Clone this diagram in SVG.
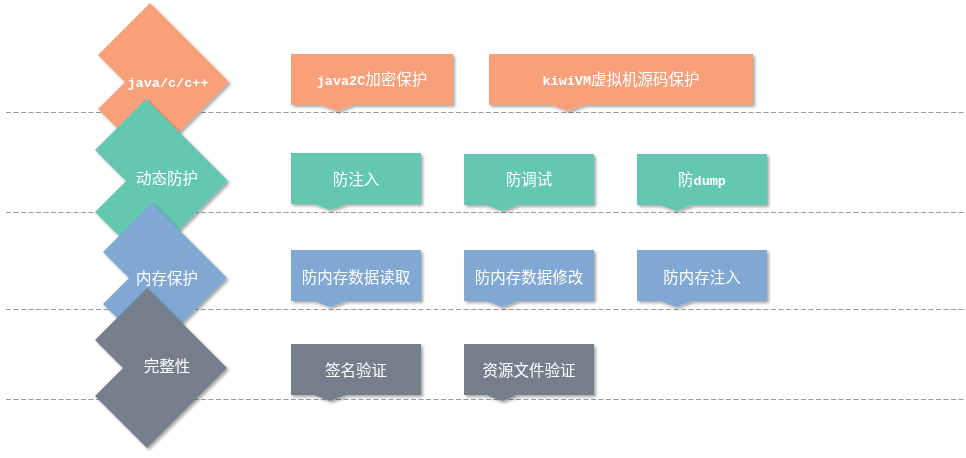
<svg xmlns="http://www.w3.org/2000/svg" width="966" height="458" viewBox="0 0 966 458">
<defs>
<filter id="sh" x="-20%" y="-20%" width="150%" height="150%">
<feDropShadow dx="2" dy="2" stdDeviation="1.6" flood-color="#000" flood-opacity="0.35"/>
</filter>
</defs>
<style>
.dash{stroke:#9a9a9a;stroke-width:1.2;stroke-dasharray:5 2.5;fill:none}
.or{fill:#F7A07A}
.te{fill:#64C7B2}
.bl{fill:#80A8D3}
.gr{fill:#747F8B}
text{fill:#fff;text-anchor:middle;font-family:"Liberation Mono","Noto Sans CJK SC",monospace;font-size:15.5px}
.lat{font-size:13.5px;font-weight:bold}
</style>
<g id="connectors">
<line class="dash" x1="6" y1="112.5" x2="966" y2="112.5"/>
<line class="dash" x1="6" y1="212.5" x2="966" y2="212.5"/>
<line class="dash" x1="6" y1="309.5" x2="966" y2="309.5"/>
<line class="dash" x1="6" y1="399.5" x2="966" y2="399.5"/>
</g>
<g id="cat-java" filter="url(#sh)">
<polygon class="or" points="150,3 229,82 150,161 98,109 125,82 98,55"/>
<text x="168" y="87" class="lat">java/c/c++</text>
</g>
<g id="cat-dynamic" filter="url(#sh)">
<polygon class="te" points="146,99 228,181 146,263 95,212 126,181 95,150"/>
<text x="167" y="184">动态防护</text>
</g>
<g id="cat-memory" filter="url(#sh)">
<polygon class="bl" points="152,203 227,278 152,353 103,304 129,278 103,252"/>
<text x="167" y="284">内存保护</text>
</g>
<g id="cat-integrity" filter="url(#sh)">
<polygon class="gr" points="147,288 227,368 147,448 95,396 123,368 95,340"/>
<text x="167" y="372">完整性</text>
</g>
<g id="b-java2c" filter="url(#sh)">
<path class="or" d="M291,54 H453 V105 H353 L337,111 L321,105 H291 Z"/>
<text x="372" y="85"><tspan class="lat">java2C</tspan>加密保护</text>
</g>
<g id="b-kiwivm" filter="url(#sh)">
<path class="or" d="M489,54 H753 V105 H584 L568,111 L552,105 H489 Z"/>
<text x="621" y="85"><tspan class="lat">kiwiVM</tspan>虚拟机源码保护</text>
</g>
<g id="b-inject" filter="url(#sh)">
<path class="te" d="M291,153 H421 V204 H346 L330,210 L314,204 H291 Z"/>
<text x="356" y="185">防注入</text>
</g>
<g id="b-debug" filter="url(#sh)">
<path class="te" d="M464,154 H594 V205 H518 L502,211 L486,205 H464 Z"/>
<text x="529" y="185">防调试</text>
</g>
<g id="b-dump" filter="url(#sh)">
<path class="te" d="M637,154 H767 V205 H692 L676,211 L660,205 H637 Z"/>
<text x="702" y="185">防<tspan class="lat">dump</tspan></text>
</g>
<g id="b-memread" filter="url(#sh)">
<path class="bl" d="M291,250 H421 V301 H346 L330,307 L314,301 H291 Z"/>
<text x="356" y="283">防内存数据读取</text>
</g>
<g id="b-memmod" filter="url(#sh)">
<path class="bl" d="M464,250 H594 V301 H518 L502,307 L486,301 H464 Z"/>
<text x="529" y="283">防内存数据修改</text>
</g>
<g id="b-meminject" filter="url(#sh)">
<path class="bl" d="M637,250 H767 V301 H692 L676,307 L660,301 H637 Z"/>
<text x="702" y="283">防内存注入</text>
</g>
<g id="b-sign" filter="url(#sh)">
<path class="gr" d="M291,344 H421 V395 H346 L330,401 L314,395 H291 Z"/>
<text x="356" y="376">签名验证</text>
</g>
<g id="b-resource" filter="url(#sh)">
<path class="gr" d="M464,344 H594 V395 H518 L502,401 L486,395 H464 Z"/>
<text x="529" y="376">资源文件验证</text>
</g>
</svg>
